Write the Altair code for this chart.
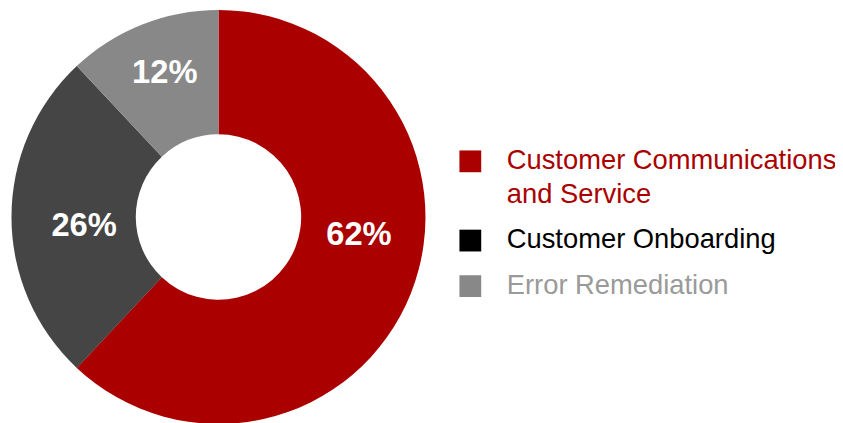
import altair as alt
import pandas as pd

# ---- data ----
categories = ["Customer Communications and Service", "Customer Onboarding", "Error Remediation"]
shares = [62, 26, 12]
legend_colors = ["#AA0000", "#000000", "#888888"]
legend_text_colors = ["#AA0000", "#000000", "#9A9A9A"]

df = pd.DataFrame({"category": categories, "share": shares})
df["label"] = df["share"].astype(str) + "%"

label_color_expr = (
    f"datum.value == '{categories[1]}' ? '{legend_text_colors[1]}' : "
    f"datum.value == '{categories[2]}' ? '{legend_text_colors[2]}' : '{legend_text_colors[0]}'"
)
label_text_expr = (
    f"datum.value == '{categories[0]}' ? ['Customer Communications', 'and Service'] : datum.label"
)

legend = alt.Legend(
    title=None,
    orient="none",
    legendX=453,
    legendY=139,
    padding=0,
    symbolType="square",
    symbolSize=484,
    symbolStrokeWidth=0,
    symbolOpacity=1,
    labelFont="Liberation Sans",
    labelFontSize=27.6,
    labelOffset=23,
    labelLimit=500,
    rowPadding=17,
    labelColor=alt.ExprRef(label_color_expr),
    labelExpr=label_text_expr,
)

base = alt.Chart(df)
slice_order = alt.Order("share:Q", sort="descending")

arcs = base.mark_arc(innerRadius=83.5, outerRadius=209).encode(
    theta=alt.Theta("share:Q", stack=True),
    color=alt.Color("category:N", scale=alt.Scale(domain=categories, range=legend_colors), legend=legend),
    # the dark slice is drawn lighter than its (black) legend swatch
    opacity=alt.condition(alt.datum.category == categories[1], alt.value(0.73), alt.value(1.0)),
    order=slice_order,
)

labels = base.mark_text(
    radius=alt.ExprRef("datum.share > 50 ? 143 : (datum.share < 20 ? 155 : 136)"),
    thetaOffset=alt.ExprRef("datum.share > 50 ? -0.25 : (datum.share > 20 ? -0.07 : 0.02)"),
    font="Liberation Sans",
    fontSize=33,
    fontWeight="bold",
    color="white",
    baseline="middle",
    align="center",
).encode(
    theta=alt.Theta("share:Q", stack=True),
    detail="category:N",
    order=slice_order,
    text="label:N",
)

chart = (
    alt.layer(arcs, labels)
    .properties(
        width=425,
        height=418,
        autosize=alt.AutoSizeParams(type="none"),
        padding={"left": 0, "top": 0, "right": 410, "bottom": 0},
        background="white",
    )
    .configure_view(stroke=None)
    .configure(style={"guide-label": {"lineHeight": 34}})
)

chart.save("out.html", embed_options={"renderer": "svg", "actions": False})
